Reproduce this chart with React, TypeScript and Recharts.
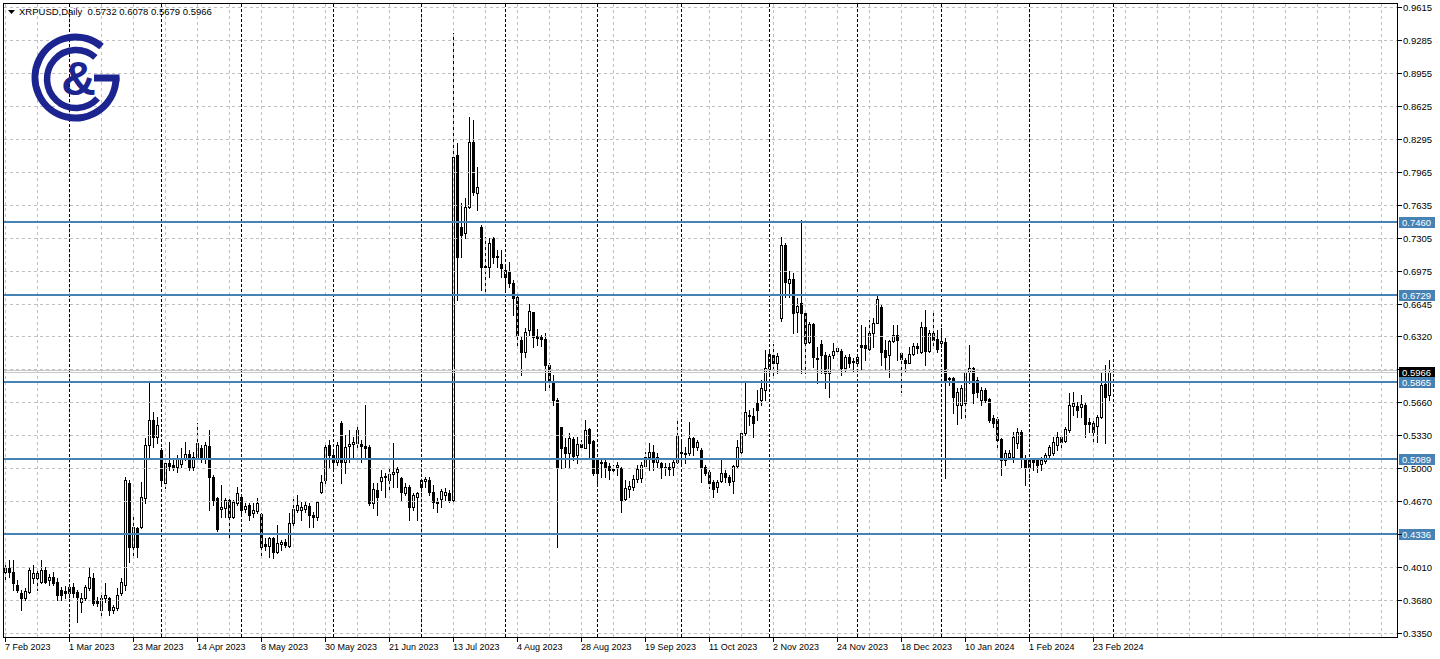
import React from "react";
import { ComposedChart, Bar, XAxis, YAxis, ReferenceLine } from "recharts";

// ---------------- DATA (XRPUSD, Daily, weekday bars from 7 Feb 2023) ----------------
const opens = [
  0.3965, 0.4005, 0.3965, 0.3835, 0.3755, 0.3705, 0.3765, 0.3905, 0.3905, 0.3865,
  0.3985, 0.3885, 0.3915, 0.3865, 0.3785, 0.3775, 0.3755, 0.3815, 0.3765, 0.3665,
  0.3705, 0.3805, 0.3905, 0.3675, 0.3585, 0.3705, 0.3705, 0.3585, 0.3605, 0.3755,
  0.3835, 0.4855, 0.4215, 0.4405, 0.4415, 0.4705, 0.5235, 0.5485, 0.5315, 0.5185,
  0.4855, 0.5055, 0.5035, 0.5015, 0.5045, 0.5095, 0.5145, 0.5015, 0.5105, 0.5205,
  0.5105, 0.5225, 0.4915, 0.4705, 0.4595, 0.4605, 0.4685, 0.4515, 0.4655, 0.4715,
  0.4595, 0.4635, 0.4555, 0.4575, 0.4545, 0.4245, 0.4225, 0.4305, 0.4165, 0.4245,
  0.4265, 0.4225, 0.4455, 0.4585, 0.4585, 0.4595, 0.4625, 0.4535, 0.4515, 0.4765,
  0.4885, 0.5235, 0.5135, 0.5065, 0.5455, 0.5065, 0.5225, 0.5245, 0.5255, 0.5245,
  0.5225, 0.5215, 0.4655, 0.4785, 0.4875, 0.4915, 0.4885, 0.4945, 0.4965, 0.4905,
  0.4755, 0.4815, 0.4615, 0.4715, 0.4815, 0.4875, 0.4885, 0.4765, 0.4675, 0.4695,
  0.4735, 0.4755, 0.4685, 0.8135, 0.7415, 0.7355, 0.7615, 0.8265, 0.7755, 0.7415,
  0.7025, 0.7015, 0.7305, 0.7125, 0.7045, 0.6915, 0.6975, 0.6855, 0.6715, 0.6285,
  0.6165, 0.6385, 0.6565, 0.6325, 0.6315, 0.6295, 0.6035, 0.5855, 0.5685, 0.5415,
  0.5215, 0.5155, 0.5295, 0.5135, 0.5245, 0.5205, 0.5395, 0.5275, 0.5085, 0.5065,
  0.5065, 0.5025, 0.4995, 0.5015, 0.5005, 0.4695, 0.4795, 0.4815, 0.4895, 0.4905,
  0.5025, 0.5115, 0.5165, 0.5065, 0.5055, 0.5015, 0.5015, 0.5015, 0.5065, 0.5165,
  0.5155, 0.5155, 0.5305, 0.5215, 0.5185, 0.5015, 0.4965, 0.4865, 0.4815, 0.4875,
  0.4955, 0.4915, 0.4875, 0.5025, 0.5165, 0.5355, 0.5535, 0.5525, 0.5655, 0.5685,
  0.5785, 0.5985, 0.6135, 0.6055, 0.6505, 0.7235, 0.6855, 0.6895, 0.6565, 0.6655,
  0.6555, 0.6265, 0.6445, 0.6105, 0.6245, 0.6135, 0.5955, 0.6135, 0.6175, 0.6175,
  0.6005, 0.6115, 0.6075, 0.6055, 0.6235, 0.6235, 0.6195, 0.6355, 0.6455, 0.6615,
  0.6185, 0.6135, 0.6275, 0.6335, 0.6155, 0.6085, 0.6055, 0.6145, 0.6225, 0.6165,
  0.6415, 0.6175, 0.6355, 0.6295, 0.6255, 0.6265, 0.5905, 0.5905, 0.5635, 0.5635,
  0.5655, 0.5965, 0.6005, 0.5885, 0.5685, 0.5785, 0.5695, 0.5505, 0.5495, 0.5295,
  0.5085, 0.5115, 0.5115, 0.5255, 0.5365, 0.5105, 0.5015, 0.5085, 0.5085, 0.5045,
  0.5075, 0.5135, 0.5155, 0.5235, 0.5315, 0.5275, 0.5385, 0.5625, 0.5625, 0.5615,
  0.5635, 0.5465, 0.5455, 0.5425, 0.5515, 0.5845, 0.5732,
];

const highs = [
  0.4055, 0.4085, 0.4085, 0.3885, 0.3785, 0.3805, 0.4015, 0.4035, 0.3985, 0.4085,
  0.4015, 0.3945, 0.3965, 0.3905, 0.3815, 0.3825, 0.3835, 0.3855, 0.3785, 0.3755,
  0.3835, 0.4005, 0.3955, 0.3715, 0.3735, 0.3855, 0.3715, 0.3635, 0.3805, 0.3905,
  0.4915, 0.4885, 0.4515, 0.4415, 0.4865, 0.5305, 0.5855, 0.5565, 0.5515, 0.5205,
  0.5085, 0.5265, 0.5105, 0.5135, 0.5205, 0.5265, 0.5185, 0.5165, 0.5455, 0.5235,
  0.5265, 0.5385, 0.4935, 0.4715, 0.4835, 0.4705, 0.4705, 0.4685, 0.4815, 0.4725,
  0.4655, 0.4655, 0.4655, 0.4705, 0.4555, 0.4305, 0.4315, 0.4315, 0.4435, 0.4285,
  0.4295, 0.4555, 0.4715, 0.4735, 0.4665, 0.4665, 0.4655, 0.4565, 0.4675, 0.4935,
  0.5265, 0.5285, 0.5165, 0.5265, 0.5475, 0.5335, 0.5385, 0.5315, 0.5415, 0.5285,
  0.5635, 0.5235, 0.4855, 0.4855, 0.4985, 0.4955, 0.5015, 0.5255, 0.5015, 0.4915,
  0.4855, 0.4835, 0.4755, 0.4765, 0.4905, 0.4915, 0.4915, 0.4835, 0.4705, 0.4795,
  0.4805, 0.4785, 0.9355, 0.8255, 0.7655, 0.7705, 0.8515, 0.8485, 0.8015, 0.7435,
  0.7315, 0.7305, 0.7315, 0.7185, 0.7185, 0.7015, 0.7065, 0.6885, 0.6735, 0.6315,
  0.6405, 0.6645, 0.6565, 0.6395, 0.6335, 0.6355, 0.6055, 0.5935, 0.5705, 0.5415,
  0.5305, 0.5355, 0.5315, 0.5315, 0.5285, 0.5485, 0.5405, 0.5285, 0.5105, 0.5105,
  0.5085, 0.5055, 0.5035, 0.5065, 0.5015, 0.4885, 0.4875, 0.4935, 0.5035, 0.5065,
  0.5165, 0.5255, 0.5235, 0.5155, 0.5065, 0.5055, 0.5055, 0.5085, 0.5485, 0.5285,
  0.5215, 0.5465, 0.5315, 0.5285, 0.5205, 0.5035, 0.4985, 0.4885, 0.4885, 0.5085,
  0.4985, 0.4935, 0.5035, 0.5285, 0.5385, 0.5855, 0.5585, 0.5605, 0.5785, 0.5885,
  0.6185, 0.6185, 0.6245, 0.6155, 0.7315, 0.7255, 0.6975, 0.6955, 0.6705, 0.7485,
  0.6585, 0.6465, 0.6455, 0.6215, 0.6285, 0.6165, 0.6145, 0.6255, 0.6215, 0.6195,
  0.6135, 0.6145, 0.6105, 0.6135, 0.6435, 0.6415, 0.6485, 0.6505, 0.6725, 0.6635,
  0.6285, 0.6285, 0.6435, 0.6435, 0.6165, 0.6105, 0.6215, 0.6255, 0.6255, 0.6465,
  0.6585, 0.6385, 0.6575, 0.6385, 0.6405, 0.6305, 0.5915, 0.5915, 0.5805, 0.5835,
  0.5985, 0.6235, 0.6015, 0.5915, 0.5815, 0.5805, 0.5705, 0.5535, 0.5515, 0.5305,
  0.5185, 0.5185, 0.5365, 0.5405, 0.5385, 0.5135, 0.5105, 0.5105, 0.5095, 0.5115,
  0.5155, 0.5235, 0.5315, 0.5365, 0.5335, 0.5415, 0.5755, 0.5765, 0.5665, 0.5735,
  0.5655, 0.5505, 0.5485, 0.5535, 0.5965, 0.6035, 0.6078,
];

const lows = [
  0.3885, 0.3915, 0.3785, 0.3765, 0.3585, 0.3685, 0.3755, 0.3855, 0.3785, 0.3855,
  0.3855, 0.3835, 0.3835, 0.3685, 0.3685, 0.3705, 0.3715, 0.3715, 0.3465, 0.3565,
  0.3685, 0.3785, 0.3635, 0.3625, 0.3535, 0.3665, 0.3535, 0.3555, 0.3585, 0.3735,
  0.3785, 0.4065, 0.4115, 0.4115, 0.4405, 0.4655, 0.5105, 0.5215, 0.5255, 0.4835,
  0.4805, 0.4985, 0.4985, 0.4965, 0.5015, 0.5085, 0.4985, 0.4985, 0.5085, 0.5065,
  0.5055, 0.4585, 0.4635, 0.4375, 0.4515, 0.4515, 0.4305, 0.4505, 0.4635, 0.4535,
  0.4565, 0.4485, 0.4515, 0.4555, 0.4105, 0.4185, 0.4115, 0.4105, 0.4155, 0.4185,
  0.4215, 0.4215, 0.4415, 0.4565, 0.4485, 0.4565, 0.4415, 0.4415, 0.4485, 0.4755,
  0.4855, 0.5005, 0.5005, 0.5035, 0.4855, 0.4955, 0.5065, 0.5115, 0.5185, 0.5065,
  0.5115, 0.4635, 0.4605, 0.4535, 0.4785, 0.4715, 0.4785, 0.4815, 0.4815, 0.4685,
  0.4735, 0.4485, 0.4585, 0.4485, 0.4705, 0.4815, 0.4735, 0.4605, 0.4565, 0.4615,
  0.4685, 0.4665, 0.4665, 0.6685, 0.7115, 0.7305, 0.7605, 0.7735, 0.7585, 0.6785,
  0.6735, 0.6915, 0.7055, 0.7015, 0.6915, 0.6765, 0.6815, 0.6535, 0.6235, 0.5935,
  0.6115, 0.6335, 0.6215, 0.6235, 0.6225, 0.5785, 0.5805, 0.5635, 0.4215, 0.5005,
  0.5015, 0.5015, 0.5085, 0.5055, 0.5205, 0.5205, 0.5115, 0.4935, 0.4835, 0.4915,
  0.4915, 0.4895, 0.4955, 0.4935, 0.4565, 0.4685, 0.4715, 0.4785, 0.4865, 0.4865,
  0.5005, 0.4985, 0.4985, 0.5015, 0.4905, 0.4935, 0.4935, 0.4935, 0.5055, 0.5035,
  0.5055, 0.5135, 0.5135, 0.5185, 0.4865, 0.4935, 0.4805, 0.4715, 0.4765, 0.4865,
  0.4865, 0.4835, 0.4755, 0.5015, 0.5155, 0.5335, 0.5435, 0.5315, 0.5485, 0.5635,
  0.5685, 0.5955, 0.5905, 0.5955, 0.6475, 0.6715, 0.6715, 0.6355, 0.6365, 0.5955,
  0.5955, 0.6255, 0.6015, 0.5855, 0.5955, 0.5805, 0.5715, 0.6105, 0.6165, 0.5935,
  0.5965, 0.6015, 0.5975, 0.6035, 0.5985, 0.6085, 0.6185, 0.6215, 0.6455, 0.6035,
  0.5985, 0.5915, 0.6265, 0.6085, 0.5765, 0.5965, 0.6055, 0.6135, 0.6155, 0.6155,
  0.6035, 0.6165, 0.6235, 0.6165, 0.6215, 0.4905, 0.5835, 0.5555, 0.5445, 0.5505,
  0.5505, 0.5855, 0.5655, 0.5715, 0.5635, 0.5665, 0.5465, 0.5415, 0.5205, 0.4935,
  0.5035, 0.5105, 0.5065, 0.5205, 0.5015, 0.4835, 0.4885, 0.4985, 0.4965, 0.4985,
  0.5055, 0.5115, 0.5135, 0.5185, 0.5215, 0.5265, 0.5365, 0.5535, 0.5515, 0.5515,
  0.5315, 0.5365, 0.5245, 0.5265, 0.5505, 0.5255, 0.5679,
];

const closes = [
  0.4005, 0.3965, 0.3855, 0.3785, 0.3705, 0.3775, 0.3985, 0.3955, 0.3955, 0.3985,
  0.3865, 0.3915, 0.3855, 0.3735, 0.3735, 0.3755, 0.3815, 0.3755, 0.3715, 0.3705,
  0.3815, 0.3915, 0.3655, 0.3655, 0.3705, 0.3735, 0.3585, 0.3615, 0.3735, 0.3865,
  0.4885, 0.4215, 0.4415, 0.4215, 0.4715, 0.5235, 0.5485, 0.5315, 0.5435, 0.4885,
  0.5055, 0.5025, 0.5015, 0.5095, 0.5105, 0.5145, 0.5015, 0.5115, 0.5255, 0.5105,
  0.5235, 0.4915, 0.4685, 0.4395, 0.4615, 0.4685, 0.4515, 0.4665, 0.4755, 0.4585,
  0.4625, 0.4535, 0.4585, 0.4655, 0.4215, 0.4225, 0.4305, 0.4165, 0.4255, 0.4265,
  0.4235, 0.4455, 0.4595, 0.4635, 0.4615, 0.4635, 0.4535, 0.4515, 0.4665, 0.4865,
  0.5215, 0.5135, 0.5065, 0.5235, 0.5065, 0.5215, 0.5245, 0.5265, 0.5385, 0.5225,
  0.5205, 0.4655, 0.4795, 0.4715, 0.4915, 0.4925, 0.4945, 0.4965, 0.4995, 0.4765,
  0.4815, 0.4615, 0.4735, 0.4755, 0.4885, 0.4895, 0.4765, 0.4665, 0.4655, 0.4775,
  0.4765, 0.4685, 0.8115, 0.7115, 0.7335, 0.7615, 0.8265, 0.7765, 0.7815, 0.7015,
  0.7015, 0.7255, 0.7115, 0.7115, 0.7005, 0.6985, 0.6855, 0.6705, 0.6335, 0.6165,
  0.6365, 0.6575, 0.6315, 0.6305, 0.6295, 0.6035, 0.5885, 0.5685, 0.5005, 0.5205,
  0.5155, 0.5305, 0.5125, 0.5245, 0.5215, 0.5385, 0.5255, 0.4955, 0.4955, 0.5055,
  0.5005, 0.4985, 0.4985, 0.5035, 0.4685, 0.4805, 0.4825, 0.4895, 0.4995, 0.5035,
  0.5115, 0.5165, 0.5065, 0.5115, 0.5015, 0.5005, 0.4995, 0.5065, 0.5335, 0.5155,
  0.5145, 0.5305, 0.5215, 0.5265, 0.5015, 0.4955, 0.4855, 0.4795, 0.4865, 0.4955,
  0.4915, 0.4865, 0.5025, 0.5215, 0.5355, 0.5565, 0.5525, 0.5455, 0.5585, 0.5805,
  0.6005, 0.6145, 0.6055, 0.6125, 0.7235, 0.6865, 0.6895, 0.6555, 0.6625, 0.6555,
  0.6255, 0.6445, 0.6115, 0.6095, 0.6135, 0.5955, 0.6125, 0.6175, 0.6205, 0.6005,
  0.6115, 0.6055, 0.6065, 0.6115, 0.6215, 0.6205, 0.6355, 0.6455, 0.6695, 0.6165,
  0.6115, 0.6275, 0.6335, 0.6285, 0.6095, 0.6055, 0.6145, 0.6225, 0.6205, 0.6415,
  0.6175, 0.6355, 0.6285, 0.6195, 0.6275, 0.5885, 0.5895, 0.5715, 0.5765, 0.5805,
  0.5965, 0.6005, 0.5755, 0.5765, 0.5785, 0.5685, 0.5485, 0.5455, 0.5285, 0.5085,
  0.5155, 0.5155, 0.5315, 0.5365, 0.5105, 0.5015, 0.5085, 0.5065, 0.5035, 0.5085,
  0.5135, 0.5215, 0.5265, 0.5315, 0.5265, 0.5395, 0.5635, 0.5655, 0.5585, 0.5645,
  0.5445, 0.5445, 0.5365, 0.5515, 0.5835, 0.5715, 0.5966,
];

// x-axis tick labels, one every 16 bars
const xTickLabels = [
  "7 Feb 2023", "1 Mar 2023", "23 Mar 2023", "14 Apr 2023", "8 May 2023", "30 May 2023",
  "21 Jun 2023", "13 Jul 2023", "4 Aug 2023", "28 Aug 2023", "19 Sep 2023", "11 Oct 2023",
  "2 Nov 2023", "24 Nov 2023", "18 Dec 2023", "10 Jan 2024", "1 Feb 2024", "23 Feb 2024",
];
const xTickBars = [0, 16, 32, 48, 64, 80, 96, 112, 128, 144, 160, 176, 192, 208, 224, 240, 256, 272];
// first bar of each month (period separators)
const monthStartBars = [16, 39, 59, 82, 104, 125, 148, 169, 191, 213, 234, 256, 277];
// price scale ticks
const yTickValues = [
  0.9615, 0.9285, 0.8955, 0.8625, 0.8295, 0.7965, 0.7635, 0.7305, 0.6975, 0.6645,
  0.632, 0.599, 0.566, 0.533, 0.5, 0.467, 0.434, 0.401, 0.368, 0.335,
];
const hiddenYLabels = [0.599, 0.434];
// horizontal level lines
const levelLines = [0.746, 0.6729, 0.5865, 0.5089, 0.4336];
const bidPrice = 0.5966;
const askPrice = 0.5985;

// ---------------- LAYOUT ----------------
const W = 1440;
const H = 659;
const TOTAL_SLOTS = 348;
const GRID_EVERY = 8;
const FONT = "'Liberation Sans', Arial, sans-serif";
const LEVEL_COLOR = "#4682B4";
const GRID_COLOR = "#c0c0c0";
const NAVY = "#1c2490";

const data = Array.from({ length: TOTAL_SLOTS }, (_, i) =>
  i < opens.length
    ? { i, o: opens[i], h: highs[i], l: lows[i], c: closes[i], range: [lows[i], highs[i]] }
    : { i }
);
const gridBars = Array.from({ length: Math.ceil(TOTAL_SLOTS / GRID_EVERY) }, (_, k) => k * GRID_EVERY);

function Candle(props: any) {
  const { x, y, width, height, payload } = props;
  if (!payload || payload.o == null || x == null || y == null) return <g />;
  const { o, h, l, c } = payload;
  const top = height >= 0 ? y : y + height;
  const span = Math.abs(height);
  const k = h > l ? span / (h - l) : 0;
  const py = (v: number) => top + (h - v) * k;
  const col = Math.floor(x + width / 2);
  const wx = col + 0.5;
  const yHigh = Math.round(py(h));
  const yLow = Math.round(py(l));
  const yO = Math.round(py(o));
  const yC = Math.round(py(c));
  const bTop = Math.min(yO, yC);
  const bBot = Math.max(yO, yC);
  const up = c >= o;
  return (
    <g>
      <line x1={wx} x2={wx} y1={yHigh} y2={yLow + 1} stroke="#000" strokeWidth={1} />
      {bBot - bTop >= 1 ? (
        <rect
          x={col - 0.5}
          y={bTop + 0.5}
          width={2}
          height={bBot - bTop}
          fill={up ? "#fff" : "#000"}
          stroke="#000"
          strokeWidth={1}
        />
      ) : (
        <line x1={col - 1} x2={col + 2} y1={bTop + 0.5} y2={bTop + 0.5} stroke="#000" strokeWidth={1} />
      )}
    </g>
  );
}

const vLineShape = (color: string, dash: string) => (p: any) => {
  const x = Math.floor(p.x1) + 0.5;
  return <line x1={x} x2={x} y1={4} y2={637} stroke={color} strokeWidth={1} strokeDasharray={dash} />;
};
const hLineShape = (color: string, dash: string | undefined, w: number) => (p: any) => {
  const yy = w % 2 === 1 ? Math.round(p.y1) + 0.5 : Math.round(p.y1);
  return <line x1={4} x2={1397} y1={yy} y2={yy} stroke={color} strokeWidth={w} strokeDasharray={dash} />;
};

const priceLabel = (text: string, bg: string) => (p: any) => {
  const vb = p.viewBox || {};
  const y = Math.round(vb.y ?? 0);
  return (
    <g>
      <rect x={1399} y={y - 5} width={36} height={11} fill={bg} />
      <text x={1402} y={y + 4} fontSize={9.5} fontFamily={FONT} fill="#fff">
        {text}
      </text>
    </g>
  );
};

function XTick(props: any) {
  const { x, payload } = props;
  const k = xTickBars.indexOf(payload.value);
  if (k < 0) return <g />;
  const cx = Math.floor(x) + 0.5;
  return (
    <g>
      <line x1={cx} x2={cx} y1={638} y2={642} stroke="#000" strokeWidth={1} />
      <text x={Math.floor(x)} y={650} fontSize={9} fontFamily={FONT} fill="#000" textAnchor="start">
        {xTickLabels[k]}
      </text>
    </g>
  );
}

function YTick(props: any) {
  const { y, payload } = props;
  const v = payload.value as number;
  const yy = Math.round(y) + 0.5;
  const hidden = hiddenYLabels.some((h) => Math.abs(h - v) < 1e-9);
  return (
    <g>
      <line x1={1398} x2={1402} y1={yy} y2={yy} stroke="#000" strokeWidth={1} />
      {!hidden && (
        <text x={1403} y={Math.round(y) + 4} fontSize={9.5} fontFamily={FONT} fill="#000">
          {v.toFixed(4)}
        </text>
      )}
    </g>
  );
}

function arcPath(cx: number, cy: number, r: number, a0: number, a1: number) {
  const rad = (a: number) => (a * Math.PI) / 180;
  const x0 = cx + r * Math.cos(rad(a0));
  const y0 = cy + r * Math.sin(rad(a0));
  const x1 = cx + r * Math.cos(rad(a1));
  const y1 = cy + r * Math.sin(rad(a1));
  const large = a1 - a0 > 180 ? 1 : 0;
  return `M ${x0} ${y0} A ${r} ${r} 0 ${large} 1 ${x1} ${y1}`;
}

function Overlay() {
  const last = opens.length - 1;
  const title = `XRPUSD,Daily  ${opens[last].toFixed(4)} ${highs[last].toFixed(4)} ${lows[last].toFixed(4)} ${closes[last].toFixed(4)}`;
  return (
    <svg width={W} height={H} style={{ position: "absolute", left: 0, top: 0, pointerEvents: "none" }}>
      <rect x={3.5} y={3.5} width={1394} height={634} fill="none" stroke="#000" strokeWidth={1} />
      <polygon points="8,10 15,10 11.5,14" fill="#000" />
      <text x={19} y={15} fontSize={9.5} fontFamily={FONT} fill="#000" style={{ whiteSpace: "pre" }}>
        {title}
      </text>
      {/* logo */}
      <path d={arcPath(75.5, 77.5, 40.5, 0, 310)} fill="none" stroke={NAVY} strokeWidth={7} />
      <rect x={94} y={74.5} width={25.5} height={7} fill={NAVY} />
      <path d={arcPath(76, 79, 29, 42, 312)} fill="none" stroke={NAVY} strokeWidth={6.5} />
      <text x={78.5} y={95} fontSize={48} fontWeight="bold" fontFamily={FONT} fill={NAVY} textAnchor="middle">
        &amp;
      </text>
    </svg>
  );
}

export default function App() {
  return (
    <div style={{ position: "absolute", left: 0, top: 0, width: W, height: H, background: "#fff" }}>
      <ComposedChart
        width={W}
        height={H}
        data={data}
        margin={{ top: 7, right: 0, bottom: 0, left: 3 }}
        barCategoryGap={0}
        barGap={0}
      >
        <XAxis
          dataKey="i"
          type="category"
          ticks={xTickBars}
          interval={0}
          height={26}
          axisLine={false}
          tickLine={false}
          tick={<XTick />}
        />
        <YAxis
          orientation="right"
          type="number"
          domain={[0.335, 0.9615]}
          ticks={yTickValues}
          interval={0}
          width={45}
          axisLine={false}
          tickLine={false}
          tick={<YTick />}
          allowDataOverflow
        />
        {yTickValues.map((v) => (
          <ReferenceLine key={`hg${v}`} y={v} stroke={GRID_COLOR} shape={hLineShape(GRID_COLOR, "3 3", 1)} />
        ))}
        {gridBars.map((b) => (
          <ReferenceLine key={`vg${b}`} x={b} stroke={GRID_COLOR} shape={vLineShape(GRID_COLOR, "3 3")} />
        ))}
        {monthStartBars.map((b) => (
          <ReferenceLine key={`ms${b}`} x={b} stroke="#000" shape={vLineShape("#000", "3 2")} />
        ))}
        <ReferenceLine y={askPrice} stroke={GRID_COLOR} shape={hLineShape("#c8c8c8", undefined, 1)} />
        <ReferenceLine
          y={bidPrice}
          stroke={GRID_COLOR}
          shape={hLineShape("#c8c8c8", undefined, 1)}
          label={priceLabel(bidPrice.toFixed(4), "#000")}
        />
        <Bar dataKey="range" shape={<Candle />} isAnimationActive={false} />
        {levelLines.map((v) => (
          <ReferenceLine
            key={`lv${v}`}
            y={v}
            stroke={LEVEL_COLOR}
            shape={hLineShape(LEVEL_COLOR, undefined, 2)}
            label={priceLabel(v.toFixed(4), LEVEL_COLOR)}
          />
        ))}
      </ComposedChart>
      <Overlay />
    </div>
  );
}
